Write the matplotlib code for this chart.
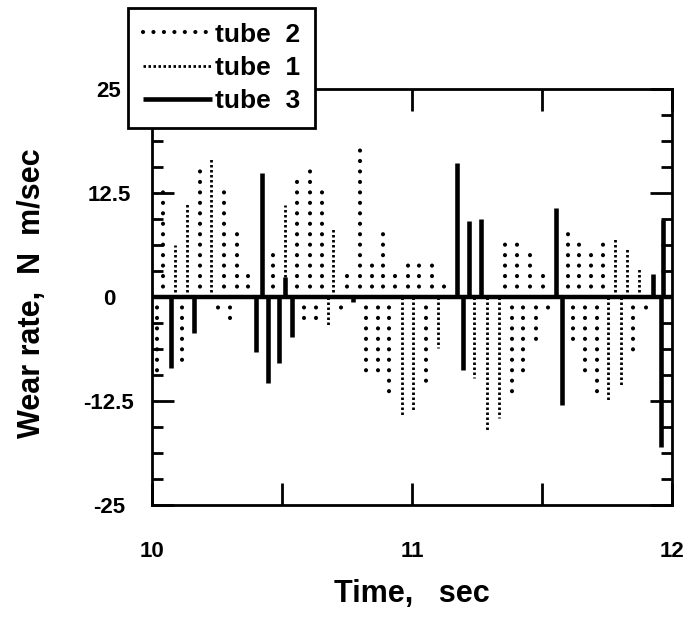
import matplotlib
matplotlib.use("Agg")
import matplotlib.pyplot as plt
from matplotlib.lines import Line2D
import numpy as np

# ---------------- data ----------------
tube3_t = [10.073, 10.162, 10.400, 10.423, 10.446, 10.488, 10.512, 10.538, 10.773,
           11.173, 11.196, 11.219, 11.265, 11.554, 11.577, 11.927, 11.965, 11.958]
tube3_v = [-8.5, -4.3, -6.6, 14.9, -10.3, -7.9, 2.4, -4.8, -0.6,
           16.1, -8.8, 9.1, 9.4, 10.7, -13.0, 2.8, 9.3, -18.0]

tube2_t = [10.019, 10.042, 10.115, 10.185, 10.254, 10.277, 10.300, 10.327, 10.350, 10.369,
           10.465, 10.558, 10.585, 10.608, 10.631, 10.654, 10.727, 10.750, 10.800, 10.823,
           10.846, 10.869, 10.888, 10.912, 10.935, 10.985, 11.027, 11.054, 11.077, 11.123,
           11.146, 11.358, 11.385, 11.404, 11.427, 11.454, 11.477, 11.504, 11.523, 11.600,
           11.619, 11.642, 11.665, 11.688, 11.712, 11.735, 11.850, 11.900]
tube2_v = [-9.4, 13.2, -7.8, 16.1, -1.8, 13.7, -2.7, 8.7, -1.2, 2.6,
           6.0, 14.5, -3.1, 15.9, -3.7, 12.9, -2.4, 3.2, 18.0, -9.7,
           3.8, -9.0, 8.7, -11.4, 3.6, 4.4, 4.8, -10.3, 4.2, 1.8,
           -1.2, 6.5, -11.8, 7.1, -9.4, 5.6, -5.8, 3.0, -1.3, 7.6,
           -6.0, 7.4, -9.6, 6.2, -12.0, 6.6, -6.7, -2.2]

tube1_t = [10.088, 10.135, 10.227, 10.512, 10.677, 10.696, 10.962, 11.004, 11.100,
           11.238, 11.288, 11.335, 11.754, 11.781, 11.804, 11.827, 11.873]
tube1_v = [6.25, 11.3, 16.8, 11.1, -3.6, 8.4, -14.2, -13.8, -6.1,
           -9.7, -16.0, -14.5, -12.4, 7.1, -10.6, 5.9, 3.5]

y_ticks = [25, 12.5, 0, -12.5, -25]
y_ticklabels = ["25", "12.5", "0", "-12.5", "-25"]
x_ticks = [10, 10.5, 11, 11.5, 12]
x_ticklabels = ["10", "", "11", "", "12"]

FONT = "Liberation Sans"

style2 = dict(color="black", lw=3.0, linestyle=(0, (0.01, 2.5)), dash_capstyle="round")
style1 = dict(color="black", lw=2.0, linestyle=(0, (0.9, 0.9)), dash_capstyle="butt")
style3 = dict(color="black", lw=3.3, linestyle="-", solid_capstyle="butt")

fig = plt.figure(figsize=(6.91, 6.25), dpi=100)
ax = fig.add_axes([152/691, 1-505/625, 520/691, 416/625])

for t, v in zip(tube1_t, tube1_v):
    ax.plot([t, t], [0, v], **style1)
for t, v in zip(tube2_t, tube2_v):
    ax.plot([t, t], [0, v], **style2)
for t, v in zip(tube3_t, tube3_v):
    ax.plot([t, t], [0, v], **style3)

ax.axhline(0, color="black", lw=3.2)

ax.set_xlim(10, 12)
ax.set_ylim(-25, 25)

ax.set_yticks(y_ticks)
ax.set_yticklabels(y_ticklabels)
ax.set_yticks(np.arange(-25, 25.01, 3.125), minor=True)
ax.set_xticks(x_ticks)
ax.set_xticklabels(x_ticklabels)

ax.tick_params(axis="y", which="major", direction="in", length=16, width=2,
               left=True, right=True, pad=31)
ax.tick_params(axis="y", which="minor", direction="in", length=8, width=2,
               left=True, right=True)
ax.tick_params(axis="x", which="major", direction="in", length=16, width=2,
               bottom=True, top=True, pad=26)
for lab in ax.get_yticklabels():
    lab.set_horizontalalignment("center")
    lab.set_fontfamily(FONT)
    lab.set_fontweight("bold")
    lab.set_fontsize(16)
for lab in ax.get_xticklabels():
    lab.set_fontfamily(FONT)
    lab.set_fontweight("bold")
    lab.set_fontsize(16)

for sp in ax.spines.values():
    sp.set_linewidth(2)

ax.set_xlabel("Time,   sec", fontfamily=FONT, fontweight="bold", fontsize=22, labelpad=12)
fig.text(32/691, 1-293/625, "Wear rate,  N  m/sec", rotation=90, ha="center", va="center",
         fontfamily=FONT, fontweight="bold", fontsize=22)

handles = [Line2D([], [], **style2), Line2D([], [], **style1), Line2D([], [], **style3)]
labels = ["tube  2", "tube  1", "tube  3"]
leg = fig.legend(handles, labels, loc="upper left",
                 bbox_to_anchor=(128/691, 1-8/625), bbox_transform=fig.transFigure,
                 borderaxespad=0, frameon=True, fancybox=False, framealpha=1,
                 edgecolor="black", handlelength=2.65, handletextpad=0.1,
                 labelspacing=0.35, borderpad=0.55,
                 prop=dict(family=FONT, weight="bold", size=19))
leg.get_frame().set_linewidth(2)

fig.savefig("out.png", dpi=100)
